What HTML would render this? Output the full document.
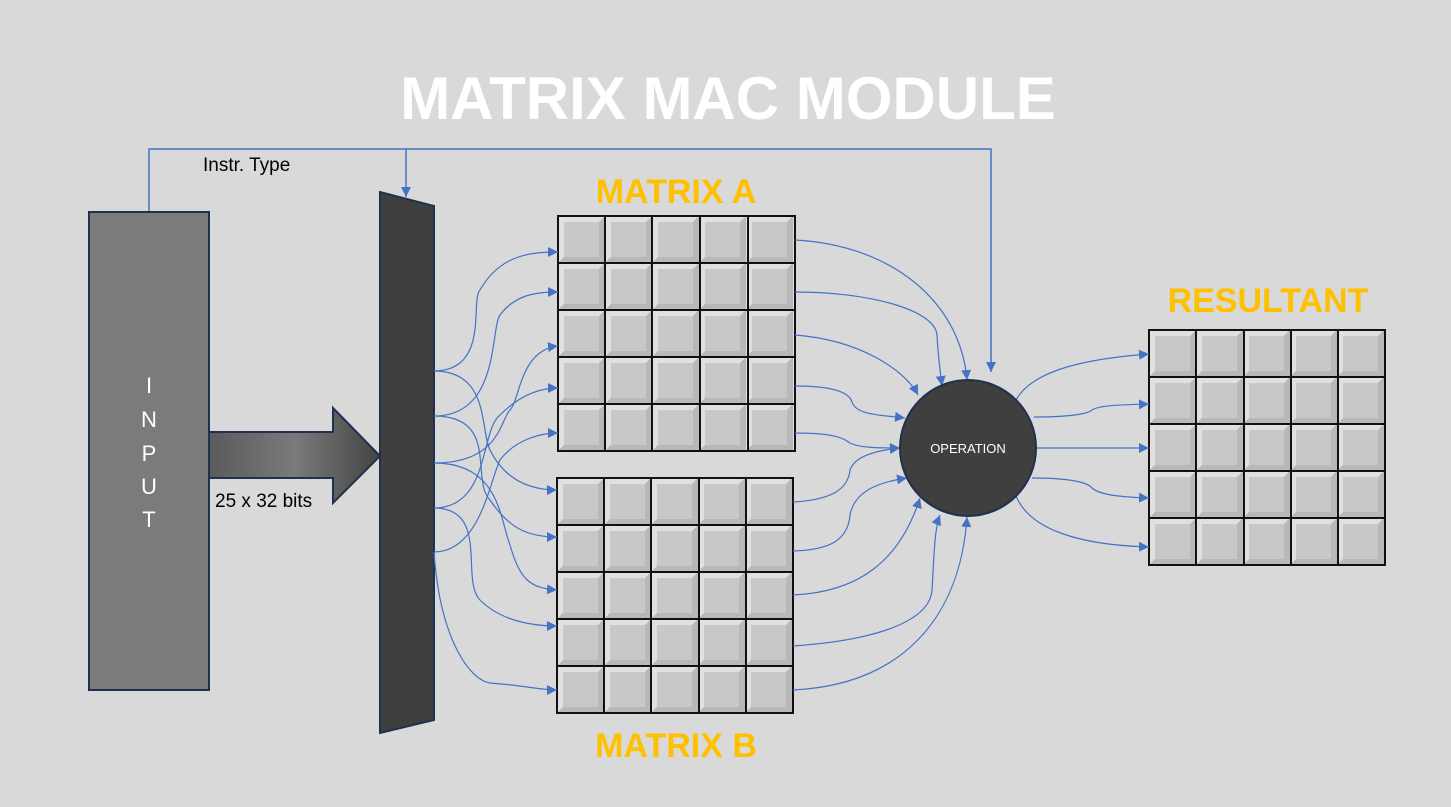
<!DOCTYPE html>
<html><head><style>body{margin:0;background:#d9d9d9}svg{display:block}</style></head><body>
<svg width="1451" height="807" viewBox="0 0 1451 807" xmlns="http://www.w3.org/2000/svg" font-family="Liberation Sans, sans-serif">
<defs>
<marker id="ar" viewBox="0 0 10 10" refX="10" refY="5" markerWidth="10" markerHeight="10" markerUnits="userSpaceOnUse" orient="auto"><path d="M0,0L10,5L0,10z" fill="#4472c4"/></marker>
<pattern id="cell" width="47" height="47" patternUnits="userSpaceOnUse">
<rect width="47" height="47" fill="#c8c8c8"/>
<path d="M0,0H47L41,6H6V41L0,47z" fill="#e0e0e0"/>
<path d="M47,0V47H0L6,41H41V6z" fill="#b8b8b8"/>
<rect x="6" y="6" width="35" height="35" fill="#c8c8c8"/>
</pattern>
<linearGradient id="g" x1="0" x2="1"><stop offset="0" stop-color="#5a5a5a"/><stop offset="0.5" stop-color="#7a7a7a"/><stop offset="1" stop-color="#444"/></linearGradient>
</defs>
<rect width="1451" height="807" fill="#d9d9d9"/>
<text x="728" y="119" text-anchor="middle" font-size="60" fill="#fff" font-weight="bold">MATRIX MAC MODULE</text>
<g fill="none" stroke="#4472c4" stroke-width="1.5">
<path d="M149,212V149H991V372" marker-end="url(#ar)"/>
<path d="M406,149V197" marker-end="url(#ar)"/>
</g>
<text x="203" y="171" font-size="19" fill="#000">Instr. Type</text>
<rect x="89" y="212" width="120" height="478" fill="#7b7b7b" stroke="#1f3050" stroke-width="2"/>
<g font-size="22" fill="#fff" text-anchor="middle"><text x="149" y="393">I</text><text x="149" y="427">N</text><text x="149" y="461">P</text><text x="149" y="494">U</text><text x="149" y="527">T</text></g>
<path d="M209,432H333V408L380,456L333,503V478H209z" fill="url(#g)" stroke="#1f3050" stroke-width="2"/>
<text x="215" y="507" font-size="19" fill="#000">25 x 32 bits</text>
<polygon points="380,192 434,206 434,720 380,733" fill="#3f3f3f" stroke="#1f3050" stroke-width="2"/>
<g font-size="34" fill="#ffc000" text-anchor="middle" font-weight="bold">
<text x="676" y="203">MATRIX A</text><text x="676" y="757">MATRIX B</text><text x="1268" y="312">RESULTANT</text></g>
<svg x="558" y="216" width="237" height="235"><rect width="237" height="235" fill="url(#cell)"/></svg>
<g stroke="#111" stroke-width="2" fill="none">
<rect x="558" y="216" width="237" height="235"/><path d="M605,216V451M652,216V451M700,216V451M748,216V451M558,263H795M558,310H795M558,357H795M558,404H795"/>
</g>
<svg x="557" y="478" width="237" height="235"><rect width="237" height="235" fill="url(#cell)"/></svg>
<g stroke="#111" stroke-width="2" fill="none">
<rect x="557" y="478" width="236" height="235"/><path d="M604,478V713M651,478V713M699,478V713M746,478V713M557,525H793M557,572H793M557,619H793M557,666H793"/>
</g>
<svg x="1149" y="330" width="237" height="235"><rect width="237" height="235" fill="url(#cell)"/></svg>
<g stroke="#111" stroke-width="2" fill="none">
<rect x="1149" y="330" width="236" height="235"/><path d="M1196,330V565M1244,330V565M1291,330V565M1338,330V565M1149,377H1385M1149,424H1385M1149,471H1385M1149,518H1385"/>
</g>
<g fill="none" stroke="#4472c4" stroke-width="1.2" marker-end="url(#ar)">
<path d="M434,371C490,371 470,300 480,290C500,255 530,252 558,252"/>
<path d="M434,416C500,416 490,330 500,315C515,295 535,292 558,292"/>
<path d="M434,463C500,463 500,420 510,410C520,400 520,350 558,346"/>
<path d="M434,508C490,508 480,430 500,415C520,395 540,388 558,388"/>
<path d="M434,552C480,552 490,480 500,460C515,440 540,433 558,433"/>
<path d="M434,371C490,371 480,430 490,450C505,480 530,490 557,490"/>
<path d="M434,416C500,416 470,480 490,500C510,530 530,537 557,537"/>
<path d="M434,463C500,463 500,520 510,545C520,580 530,588 557,590"/>
<path d="M434,508C490,508 460,580 480,600C500,620 530,626 557,626"/>
<path d="M434,552C440,640 470,680 490,683C520,685 540,690 557,690"/>
<path d="M795,240C890,245 960,300 967,380"/>
<path d="M795,292C870,292 935,310 937,335C938,355 940,370 942,386"/>
<path d="M795,335C860,340 905,370 918,395"/>
<path d="M795,386C840,386 850,395 852,402C856,415 880,415 905,418"/>
<path d="M795,433C840,433 845,440 850,443C860,448 880,448 900,448"/>
<path d="M793,502C830,500 848,490 850,470C855,455 880,450 900,448"/>
<path d="M793,551C830,550 848,540 850,515C855,490 880,482 907,478"/>
<path d="M793,595C860,592 900,560 920,498"/>
<path d="M793,646C880,640 930,620 932,590C934,560 934,530 940,515"/>
<path d="M793,690C900,685 960,620 967,517"/>
<path d="M1016,400C1030,375 1070,360 1149,354"/>
<path d="M1034,417C1080,417 1090,412 1092,410C1100,405 1120,405 1149,404"/>
<path d="M1036,448H1149"/>
<path d="M1032,478C1080,478 1090,485 1092,488C1100,495 1120,497 1149,498"/>
<path d="M1016,496C1030,530 1080,545 1149,547"/>
</g>
<circle cx="968" cy="448" r="68" fill="#3f3f3f" stroke="#1f3050" stroke-width="2"/>
<text x="968" y="453" font-size="13" fill="#fff" text-anchor="middle">OPERATION</text>
</svg>
</body></html>
